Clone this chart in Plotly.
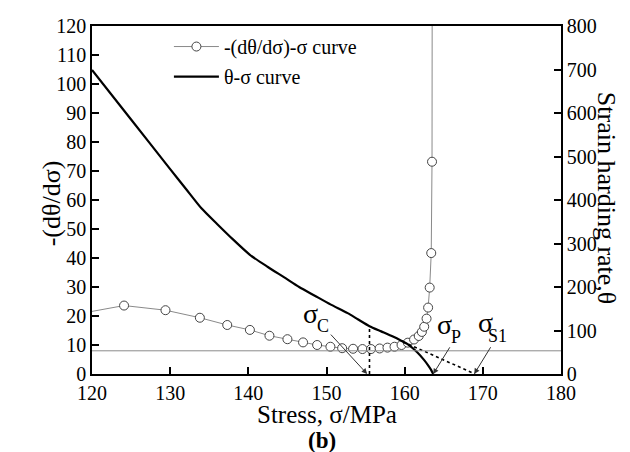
import plotly.graph_objects as go

# ---- data ----
# -(dθ/dσ) vs σ (left axis)
rate_sigma = [118.0, 124.1, 129.4, 133.8, 137.3, 140.2, 142.7, 145.0, 147.0, 148.8,
              150.5, 152.0, 153.4, 154.6, 155.7, 156.8, 157.8, 158.7, 159.6, 160.4,
              161.2, 161.8, 162.2, 162.5, 162.8, 163.0, 163.2, 163.4, 163.5, 163.55]
rate_values = [20.6, 23.6, 22.0, 19.4, 16.9, 15.2, 13.2, 12.0, 10.9, 10.0,
               9.4, 8.9, 8.7, 8.6, 8.6, 8.8, 9.1, 9.4, 10.0, 10.8,
               11.9, 13.1, 14.5, 16.3, 19.1, 22.9, 29.8, 41.7, 73.2, 200.0]

# θ vs σ (right axis)
theta_sigma = [120, 125, 130, 132, 134, 136, 138, 140.2, 142.5, 144.6, 146.5, 148.5,
               150.5, 152.7, 154, 155.5, 157, 158.5, 159.5, 160.5, 161.6, 162.5,
               163.0, 163.4, 163.65]
theta_values = [699, 585, 471, 426, 381, 345, 310, 274, 246, 222, 200, 180,
                160, 140, 126, 110, 98, 86, 77, 67, 50, 32,
                20, 9, 0]

# characteristic stresses
sigma_c = 155.5
sigma_c_theta = 110
sigma_p = 163.65
sigma_s1 = 169.0
tangent_start = (159.8, 74)
threshold = 8

x_ticks = [120, 130, 140, 150, 160, 170, 180]
left_ticks = list(range(0, 121, 10))
right_ticks = list(range(0, 801, 100))

FONT = "Liberation Serif, Times New Roman, Times, serif"

fig = go.Figure()

fig.add_trace(go.Scatter(
    x=rate_sigma, y=rate_values, mode="lines+markers",
    name="-(dθ/dσ)-σ curve",
    line=dict(color="#8a8a8a", width=1),
    marker=dict(symbol="circle", size=9, color="white",
                line=dict(color="#444444", width=1)),
    legendgroup="a", yaxis="y",
))
fig.add_trace(go.Scatter(
    x=theta_sigma, y=theta_values, mode="lines",
    name="θ-σ curve",
    line=dict(color="black", width=2.2, shape="spline", smoothing=0.6),
    legendgroup="b", yaxis="y2",
))
# construction lines (dotted)
fig.add_trace(go.Scatter(
    x=[sigma_c, sigma_c], y=[0, sigma_c_theta], mode="lines",
    line=dict(color="black", width=1.6, dash="dot"),
    showlegend=False, yaxis="y2", hoverinfo="skip",
))
fig.add_trace(go.Scatter(
    x=[tangent_start[0], sigma_s1], y=[tangent_start[1], 0], mode="lines",
    line=dict(color="black", width=1.6, dash="dot"),
    showlegend=False, yaxis="y2", hoverinfo="skip",
))

fig.add_hline(y=threshold, line=dict(color="#8a8a8a", width=1), yref="y")

ann = []
# big sigma letters
for (xs, ys) in [(147.9, 20.8), (165.1, 17.0), (170.3, 17.7)]:
    ann.append(dict(x=xs, y=ys, xref="x", yref="y", text="σ", showarrow=False,
                    font=dict(family=FONT, size=28, color="black")))
# subscripts with arrows
for (txt, tx, ty, px) in [("C", 149.6, 16.4, 155.2), ("P", 166.6, 12.8, sigma_p),
                          ("S1", 171.9, 13.2, sigma_s1 - 0.1)]:
    ann.append(dict(x=px, y=0, xref="x", yref="y", ax=tx, ay=ty, axref="x", ayref="y",
                    text=txt, showarrow=True, arrowhead=2, arrowsize=1.1, arrowwidth=1,
                    arrowcolor="#333333",
                    font=dict(family=FONT, size=18, color="black")))
# axis titles
ann.append(dict(x=0.5, y=-0.162, xref="paper", yref="paper", text="Stress, σ/MPa",
                showarrow=False, font=dict(family=FONT, size=25, color="black")))
ann.append(dict(x=0.49, y=-0.232, xref="paper", yref="paper", text="<b>(b)</b>",
                showarrow=False, font=dict(family=FONT, size=23, color="black")))
ann.append(dict(x=-0.1215, y=0.489, xref="paper", yref="paper", text="-(dθ/dσ)",
                textangle=-90, showarrow=False,
                font=dict(family=FONT, size=26, color="black")))
ann.append(dict(x=1.132, y=0.505, xref="paper", yref="paper", text="Strain harding rate,θ",
                textangle=90, showarrow=False,
                font=dict(family=FONT, size=26, color="black")))

axis_common = dict(showgrid=False, zeroline=False, showline=True, linecolor="black",
                   linewidth=1.5, ticks="inside", ticklen=7, tickwidth=1.5,
                   tickcolor="black", automargin=False,
                   tickfont=dict(family=FONT, size=20, color="black"))

fig.update_layout(
    width=630, height=452,
    margin=dict(l=84, r=77, t=18, b=86, autoexpand=False),
    paper_bgcolor="white", plot_bgcolor="white",
    font=dict(family=FONT, color="black"),
    xaxis=dict(range=[120, 180], tickvals=x_ticks, mirror=True, **axis_common),
    yaxis=dict(range=[0, 120], tickvals=left_ticks, **axis_common),
    yaxis2=dict(range=[0, 800], tickvals=right_ticks, overlaying="y", side="right",
                **axis_common),
    legend=dict(x=0.164, y=0.997, xanchor="left", yanchor="top",
                bgcolor="rgba(0,0,0,0)", font=dict(family=FONT, size=20, color="black"),
                itemwidth=45, tracegroupgap=1, traceorder="grouped"),
    annotations=ann,
    showlegend=True,
)

fig.write_html("out.html")
